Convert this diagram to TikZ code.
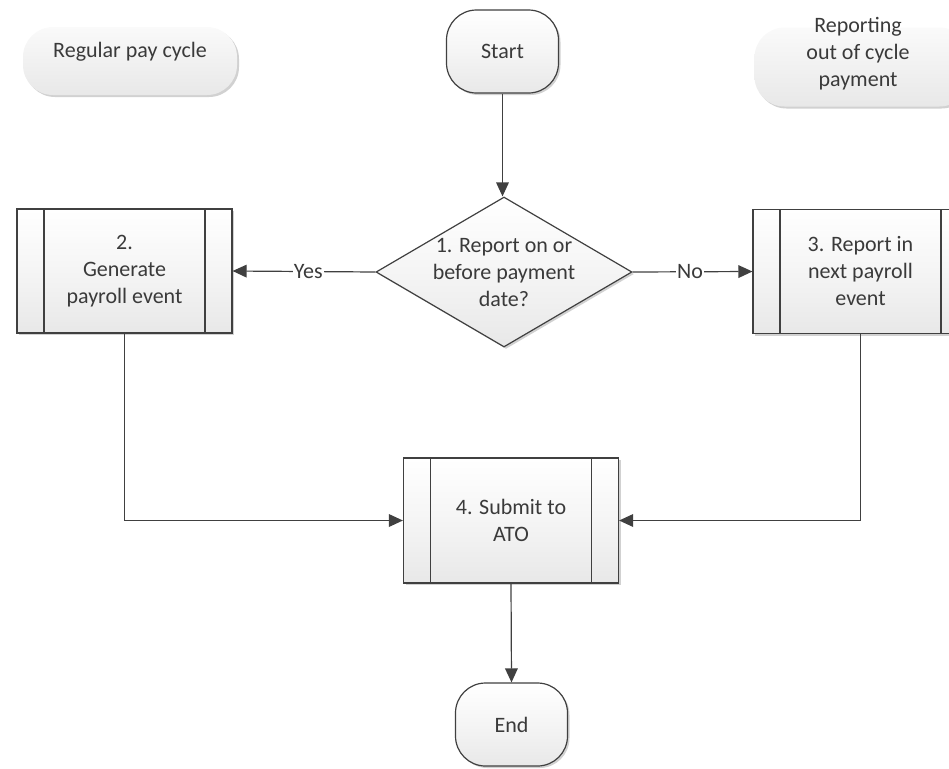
\documentclass[tikz,border=0pt]{standalone}
\usepackage{fontspec}
\setmainfont{Carlito}
\usetikzlibrary{shapes.geometric,arrows.meta,shadows}

\newcommand\pxu{0.75pt}
\definecolor{linecol}{HTML}{404040}
\definecolor{txtcol}{HTML}{3A3A3A}

\tikzset{
  base/.style={font=\fontsize{16.5}{20.25}\selectfont, text=txtcol, align=center},
  shadowed/.style={drop shadow={shadow xshift=1.5pt, shadow yshift=-1.5pt, fill=black, opacity=0.18}},
  flowfill/.style={top color=white, bottom color=black!9, middle color=white!96!black},
  terminal/.style={base, shadowed, flowfill, draw=linecol, line width=0.9pt,
    rounded corners=30*\pxu, minimum width=112*\pxu, minimum height=83*\pxu, inner sep=0pt},
  bubble/.style={base, shadowed, top color=black!2, bottom color=black!9, draw=none,
    rounded corners=30*\pxu, inner sep=0pt},
  decision/.style={base, shadowed, flowfill, draw=linecol, line width=0.9pt, shape=diamond,
    minimum width=256*\pxu, minimum height=150*\pxu, inner sep=0pt},
  process/.style={base, shadowed, flowfill, draw=linecol, line width=0.9pt,
    minimum width=215*\pxu, minimum height=124*\pxu, inner sep=0pt,
    path picture={
      \draw[linecol, line width=0.9pt]
        ([xshift=27*\pxu]path picture bounding box.north west) -- ([xshift=27*\pxu]path picture bounding box.south west)
        ([xshift=-27*\pxu]path picture bounding box.north east) -- ([xshift=-27*\pxu]path picture bounding box.south east);
    }},
  conn/.style={draw=linecol, line width=0.9pt, -{Triangle[length=10.5pt, width=9.5pt]}},
  lab/.style={base, fill=white, inner sep=1pt}
}

\begin{document}
\begin{tikzpicture}[x=0.75pt, y=-0.75pt]
  \clip (0,0) rectangle (949,768);

  % swimlane captions
  \node[bubble, minimum width=214*\pxu, minimum height=68*\pxu,
        label={[base, yshift=9*\pxu]center:Regular pay cycle}] (cycle) at (130,61) {};
  \node[bubble, minimum width=215*\pxu, minimum height=79*\pxu,
        label={[base, xshift=-4*\pxu, yshift=13*\pxu]center:Reporting\\out of cycle\\payment}] (oocycle) at (862,67) {};

  % flow steps
  \node[terminal] (start) at (502.5,51.5) {Start};
  \node[decision, label={[base]center:1. Report on or\\before payment\\date?}] (dia) at (504,272) {};
  \node[process] (gen) at (124.5,271) {2.\\Generate\\payroll event};
  \node[process] (next) at (860.5,271.5) {3. Report in\\next payroll\\event};
  \node[process, minimum height=125*\pxu] (ato) at (511,520.5) {4. Submit to\\ATO};
  \node[terminal] (end) at (511.5,724.5) {End};

  % connectors
  \draw[conn] (start.south) -- (start.south |- dia.north);
  \draw[conn] (dia.west) -- node[lab, pos=0.47] {Yes} (gen.east);
  \draw[conn] (dia.east) -- node[lab, pos=0.48] {No} (next.west);
  \draw[conn] (gen.south) |- (ato.west);
  \draw[conn] (next.south) |- (ato.east);
  \draw[conn] (ato.south) -- (end.north);
\end{tikzpicture}
\end{document}
